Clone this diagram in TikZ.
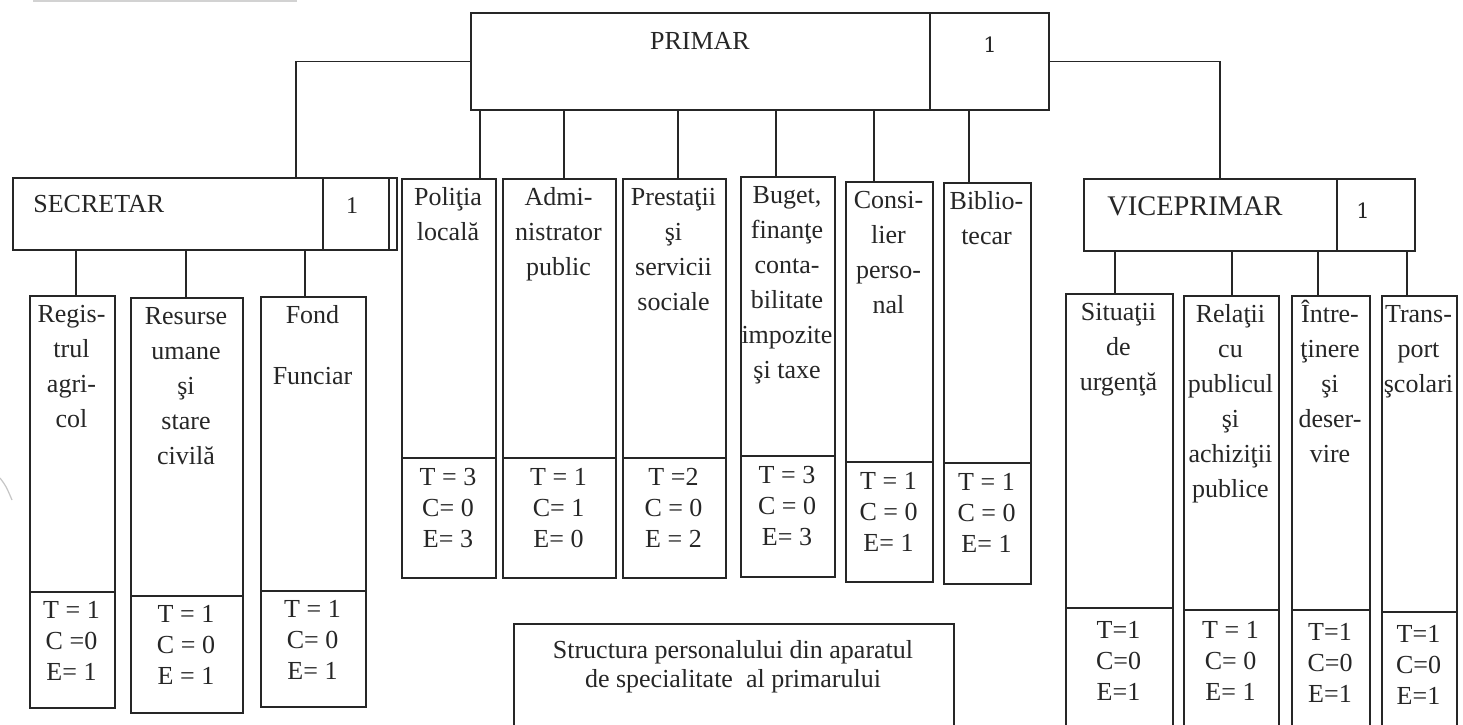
\documentclass[tikz,border=0pt]{standalone}
\usepackage{fontspec}
\setmainfont{Liberation Serif}
\newfontfamily\onefont{DejaVu Serif}
\newcommand\firststrut{\rule{0pt}{13pt}}
\tikzset{
  ln/.style={line width=0.85pt, draw=black!85},
  unitbox/.style={ln, inner sep=0pt, anchor=north west},
  toptxt/.style={anchor=north, inner sep=0pt, align=center, text=black!85,
    font=\fontsize{13pt}{17.5pt}\selectfont},
  bottxt/.style={anchor=north, inner sep=0pt, align=center, text=black!85,
    font=\fontsize{13pt}{15.5pt}\selectfont},
  headtxt/.style={anchor=base, inner sep=0pt, text=black!85},
}
% name, x1, ytop, x2, ydiv, ybottom, top text, bottom text, bottom offset
\newcommand\orgunit[9]{%
  \node[unitbox, minimum width={(#4-#2)*0.5pt}, minimum height={(#6-#3)*0.5pt}] (#1) at (#2,#3) {};
  \draw[ln] (#2,#5) -- (#4,#5);
  \node[toptxt] (#1-t) at ({(#2+#4)/2},{#3+1}) {\firststrut#7};
  \node[bottxt] (#1-b) at ({(#2+#4)/2},{#5+#9}) {\firststrut#8};
}
\begin{document}
\begin{tikzpicture}[x=0.5pt,y=-0.5pt]
\useasboundingbox (0,0) rectangle (1463,724);
\clip (0,0) rectangle (1463,724);
\fill[white] (0,0) rectangle (1463,724);
% scan artefacts
\draw[gray!35, line width=1pt] (33,0.5) -- (297,0.5);
\draw[gray!45, line width=0.6pt] (0,478) .. controls (6,486) .. (12,500);

% PRIMAR
\node[unitbox, minimum width={(1048-470)*0.5pt}, minimum height={(109-12)*0.5pt}] (primar) at (470,12) {};
\draw[ln] (930,12) -- (930,109);
\node[headtxt, font=\fontsize{13pt}{15pt}\selectfont] (primar-t) at (700,49) {PRIMAR};
\node[headtxt, font=\onefont\fontsize{10.5pt}{12pt}\selectfont] (primar-n) at (990,52) {1};

% SECRETAR
\node[unitbox, minimum width={(396-12)*0.5pt}, minimum height={(249-177)*0.5pt}] (secretar) at (12,177) {};
\draw[ln] (323,177) -- (323,249);
\draw[ln] (389,177) -- (389,249);
\node[headtxt, anchor=base west, font=\fontsize{13pt}{15pt}\selectfont] (secretar-t) at (33,212) {SECRETAR};
\node[headtxt, font=\fontsize{12pt}{14pt}\selectfont] (secretar-n) at (352,213) {1};

% VICEPRIMAR
\node[unitbox, minimum width={(1414-1083)*0.5pt}, minimum height={(250-178)*0.5pt}] (vice) at (1083,178) {};
\draw[ln] (1337,178) -- (1337,250);
\node[headtxt, anchor=base west, font=\fontsize{14.2pt}{16pt}\selectfont] (vice-t) at (1107,215) {VICEPRIMAR};
\node[headtxt, font=\onefont\fontsize{10.5pt}{12pt}\selectfont] (vice-n) at (1363,218) {1};

% units under SECRETAR
\orgunit{reg}{29}{295}{114}{592}{707}{Regis-\\trul\\agri-\\col}{T = 1\\C =0\\E= 1}{0}
\orgunit{res}{130}{297}{242}{596}{712}{Resurse\\umane\\şi\\stare\\civilă}{T = 1\\C = 0\\E = 1}{0}
\orgunit{fond}{260}{296}{365}{591}{706}{Fond\\[13pt]Funciar}{T = 1\\C= 0\\E= 1}{0}

% units under PRIMAR
\orgunit{pol}{401}{178}{495}{458}{577}{Poliţia\\locală}{T = 3\\C= 0\\E= 3}{1}
\orgunit{adm}{502}{178}{615}{458}{577}{Admi-\\nistrator\\public}{T = 1\\C= 1\\E= 0}{1}
\orgunit{pre}{622}{178}{725}{458}{577}{Prestaţii\\şi\\servicii\\sociale}{T =2\\C = 0\\E = 2}{1}
\orgunit{bug}{740}{176}{834}{456}{576}{Buget,\\finanţe\\conta-\\bilitate\\impozite\\şi taxe}{T = 3\\C = 0\\E= 3}{1}
\orgunit{con}{845}{181}{932}{462}{581}{Consi-\\lier\\perso-\\nal}{T = 1\\C = 0\\E= 1}{1}
\orgunit{bib}{943}{182}{1030}{463}{583}{Biblio-\\tecar}{T = 1\\C = 0\\E= 1}{1}

% units under VICEPRIMAR
\orgunit{sit}{1065}{293}{1172}{608}{760}{Situaţii\\de\\urgenţă}{T=1\\C=0\\E=1}{4}
\orgunit{rel}{1183}{295}{1278}{610}{760}{Relaţii\\cu\\publicul\\şi\\achiziţii\\publice}{T = 1\\C= 0\\E= 1}{2}
\orgunit{int}{1291}{295}{1369}{610}{760}{Între-\\ţinere\\şi\\deser-\\vire}{T=1\\C=0\\E=1}{4}
\orgunit{tra}{1381}{295}{1456}{612}{760}{Trans-\\port\\şcolari}{T=1\\C=0\\E=1}{4}

% caption box
\node[unitbox, minimum width={(953-513)*0.5pt}, minimum height={(760-623)*0.5pt}] (cap) at (513,623) {};
\node[toptxt, font=\fontsize{13pt}{14.5pt}\selectfont] (cap-t) at (733,632) {\firststrut Structura personalului din aparatul\\de specialitate\ \ al primarului};

% connectors
\coordinate (s0) at (296,177);
\coordinate (v0) at (1220,178);
\draw[ln] (primar.west) -| (s0);
\draw[ln] (primar.east) -| (v0);
\foreach \cx/\ch in {480/pol, 564/adm, 678/pre, 776/bug, 874/con, 969/bib}
  \draw[ln] (\cx,0 |- primar.south) -- (\cx,0 |- \ch.north);
\foreach \cx/\ch in {76/reg, 186/res, 305/fond}
  \draw[ln] (\cx,0 |- secretar.south) -- (\cx,0 |- \ch.north);
\foreach \cx/\ch in {1115/sit, 1232/rel, 1318/int, 1407/tra}
  \draw[ln] (\cx,0 |- vice.south) -- (\cx,0 |- \ch.north);
\end{tikzpicture}
\end{document}
